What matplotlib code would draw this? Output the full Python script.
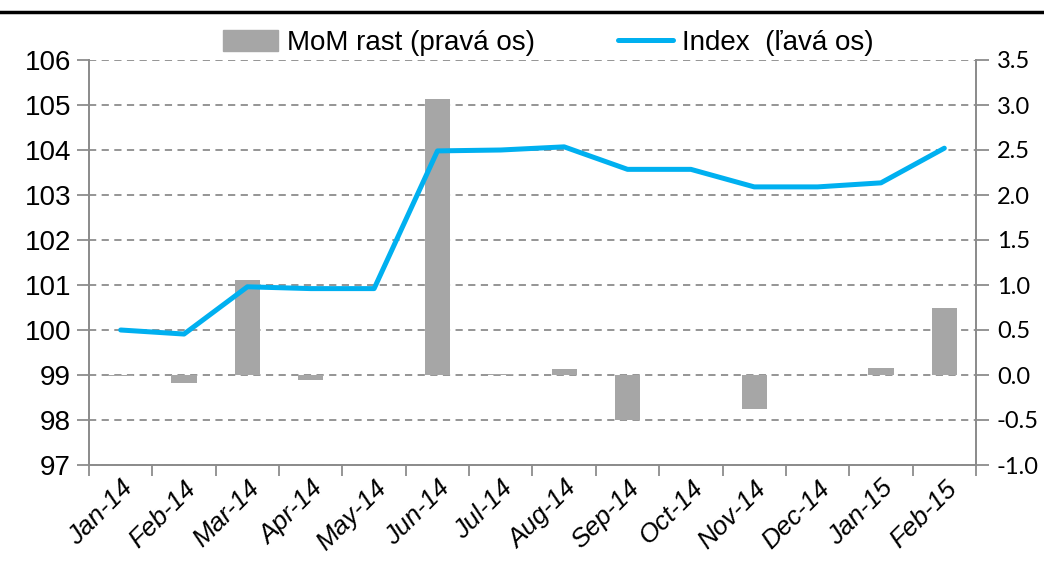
import numpy as np
import matplotlib
matplotlib.use("Agg")
from matplotlib import pyplot as plt
from matplotlib.lines import Line2D

months = ['Jan-14', 'Feb-14', 'Mar-14', 'Apr-14', 'May-14', 'Jun-14', 'Jul-14',
          'Aug-14', 'Sep-14', 'Oct-14', 'Nov-14', 'Dec-14', 'Jan-15', 'Feb-15']
index_vals = [100.0, 99.91, 100.96, 100.92, 100.92, 103.98, 104.0,
              104.07, 103.57, 103.57, 103.18, 103.18, 103.27, 104.04]
mom_vals = [-0.01, -0.09, 1.06, -0.06, 0.0, 3.07, 0.01,
            0.07, -0.5, 0.0, -0.38, 0.0, 0.08, 0.75]

left_ticks = list(range(97, 107))
right_ticks = [-1.0, -0.5, 0.0, 0.5, 1.0, 1.5, 2.0, 2.5, 3.0, 3.5]

line_col = '#00B0F0'
bar_col = '#A6A6A6'
axis_col = '#8C8C8C'
narrow = ['Liberation Sans Narrow', 'Liberation Sans', 'DejaVu Sans']

fig = plt.figure(figsize=(10.44, 5.76), dpi=100)
ax = fig.add_axes([89 / 1044, 1 - 465 / 576, (976 - 89) / 1044, (465 - 60) / 576])
ax2 = ax.twinx()

x = np.arange(len(months))

# bars on right axis, grid behind them
ax2.bar(x, mom_vals, width=0.4, color=bar_col, zorder=3)
ax2.set_ylim(-1.0, 3.5)
ax2.set_yticks(right_ticks)
ax2.set_yticklabels(['%.1f' % v for v in right_ticks], family=['Lato', 'DejaVu Sans'], fontsize=17)
ax2.yaxis.grid(True, ls=(0, (4, 3)), color=axis_col, lw=1.3, zorder=0)
ax2.set_axisbelow(True)

# line on left axis, drawn above the bars
ax.plot(x, index_vals, color=line_col, lw=3.6, solid_capstyle='round', zorder=5)
ax.set_ylim(97, 106)
ax.set_yticks(left_ticks)
ax.set_yticklabels([str(v) for v in left_ticks], family=['Liberation Sans', 'DejaVu Sans'], fontsize=20)
ax.set_zorder(ax2.get_zorder() + 1)
ax.patch.set_visible(False)

ax.set_xlim(-0.5, len(months) - 0.5)
ax.set_xticks(x)
ax.set_xticklabels(months, rotation=45, ha='right', va='top', rotation_mode='anchor',
                   family=narrow, style='italic', fontsize=19)
ax.set_xticks(np.arange(-0.5, len(months), 1.0), minor=True)
ax.tick_params(axis='x', which='major', length=0, pad=8)
ax.tick_params(axis='x', which='minor', length=8, color=axis_col, width=1.3, direction='out')
ax.tick_params(axis='y', length=9, color=axis_col, width=1.3, pad=4)
ax2.tick_params(axis='y', length=9, color=axis_col, width=1.3, pad=6)

for a in (ax, ax2):
    a.spines['top'].set_visible(False)
    for s in ('left', 'right', 'bottom'):
        a.spines[s].set_color(axis_col)
        a.spines[s].set_linewidth(1.3)

handles = [plt.Rectangle((0, 0), 1, 1, color=bar_col),
           Line2D([0], [0], color=line_col, lw=3.6, solid_capstyle='round')]
fig.legend(handles, ['MoM rast (pravá os)', 'Index  (ľavá os)'], ncol=2, frameon=False,
           loc='center', bbox_to_anchor=(548 / 1044, 1 - 43 / 576),
           prop={'family': narrow, 'size': 20}, handlelength=2.0, handleheight=0.8,
           handletextpad=0.3, columnspacing=3.0)

# black rule at the top
fig.add_artist(Line2D([0, 1], [1 - 12 / 576, 1 - 12 / 576], color='black', lw=2.5,
                      transform=fig.transFigure))

fig.savefig('out.png', dpi=100)
